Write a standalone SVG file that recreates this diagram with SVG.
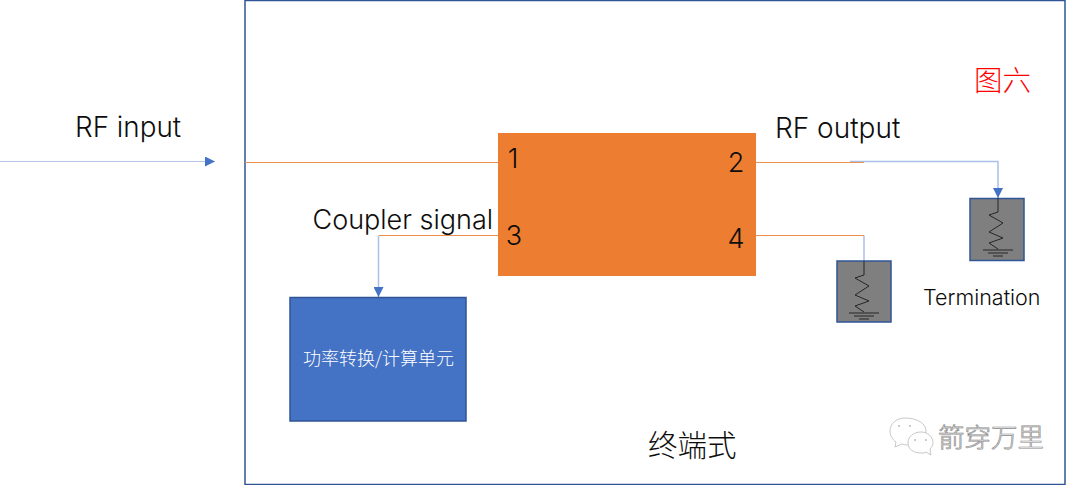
<svg xmlns="http://www.w3.org/2000/svg" width="1080" height="485" viewBox="0 0 1080 485">
<defs>
<marker id="ah" markerUnits="userSpaceOnUse" markerWidth="11" markerHeight="10" refX="10" refY="5" orient="auto"><path d="M0,0L10,5L0,10Z" fill="#4472c4"/></marker>
<g id="res"><path d="M0,0V14L-9,17L5,25L-9,34L5,40L-9,45L0,51" fill="none" stroke="#262626" stroke-width="1"/><path d="M-15,52H15M-10,55H10M-5,58H5" fill="none" stroke="#262626" stroke-width="1"/></g>
</defs>
<style>
text{font-family:"Inter","Noto Sans CJK SC",sans-serif;font-weight:300;fill:#0d0d0d}
.cjk{font-family:"Noto Sans CJK SC",sans-serif;font-weight:300}
.blue{fill:none;stroke:#a9c0e8;stroke-width:1.500}
.or{fill:none;stroke:#ed9050;stroke-width:1}
.box{fill:#7f7f7f;stroke:#2f5597;stroke-width:1.500}
.wm{fill:#fff;stroke:#c8c8c8;stroke-width:1}
</style>
<rect width="1080" height="485" fill="#fff"/>
<g id="frame"><rect x="245" y="0.5" width="820" height="484" fill="#fff" stroke="#2f5597" stroke-width="1.500"/></g>
<g id="connectors">
<path d="M0,161.500H215" fill="none" stroke="#b4c7e7" stroke-width="1.200" marker-end="url(#ah)"/>
<path class="or" d="M245,162.500H498"/>
<path class="blue" d="M850,161.500H998V198" marker-end="url(#ah)"/>
<path class="or" d="M756,162.500H864"/>
<path class="blue" d="M864,235.500V261"/>
<path class="or" d="M756,235.500H864"/>
<path class="blue" d="M378.500,235.500V297" marker-end="url(#ah)"/>
<path class="or" d="M379,235.500H498"/>
</g>
<g id="coupler"><rect x="498" y="133" width="258" height="143" fill="#ed7d31"/>
<text x="513" y="168" font-size="27" text-anchor="middle">1</text>
<text x="736" y="172" font-size="27" text-anchor="middle">2</text>
<text x="514" y="245" font-size="27" text-anchor="middle">3</text>
<text x="736" y="248" font-size="27" text-anchor="middle">4</text>
</g>
<g id="power-unit"><rect x="290" y="297.500" width="176" height="123.500" fill="#4472c4" stroke="#2f5597" stroke-width="1.500"/>
<text class="cjk" x="378.500" y="365" font-size="18" text-anchor="middle" style="fill:#fff">功率转换/计算单元</text></g>
<g id="termination-1"><rect x="970" y="198.500" width="54" height="62" class="box"/><use href="#res" x="998" y="198"/></g>
<g id="termination-2"><rect x="837" y="261" width="54" height="61" class="box"/><use href="#res" x="864" y="261"/></g>
<g id="labels">
<text x="75" y="137" font-size="27.800">RF input</text>
<text x="775" y="138" font-size="28">RF output</text>
<text x="312.500" y="229" font-size="27">Coupler signal</text>
<text x="923" y="305" font-size="21.500">Termination</text>
<text class="cjk" x="974" y="91" font-size="28.500" style="fill:#ff0000">图六</text>
<text class="cjk" x="648" y="456" font-size="29.500">终端式</text>
</g>
<g id="watermark">
<path class="wm" d="M905,418c-9,0-15,6-15,13c0,5 3,9 6,11l-1,5l7,-3c3,1 6,1 9,1c9,0 15,-6 15,-14c0,-7-8,-13-21,-13Z"/>
<path class="wm" d="M921,432c-8,0-13,5-13,11c0,6 5,10 13,10c2,0 4,0 5,-1l5,3l-1,-6c2,-2 3,-4 3,-6c0,-6-5,-11-12,-11Z"/>
<path d="M899,425v2M910,425v2M915,439v2M926,439v2" stroke="#bbb" stroke-width="1.500"/>
<text class="cjk" x="938" y="447" font-size="26.500" style="fill:#f4f4f4;stroke:#8c8c8c;stroke-width:0.700">箭穿万里</text>
</g>
</svg>
